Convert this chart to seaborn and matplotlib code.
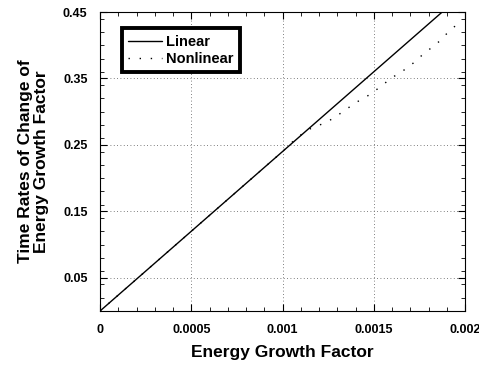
import numpy as np
import pandas as pd
import matplotlib
matplotlib.use("Agg")
import matplotlib.pyplot as plt
import seaborn as sns
from matplotlib.ticker import MultipleLocator

# Energy growth factor (x) and time rates of change (y)
linear_x = [0.0, 0.0005, 0.001, 0.0015, 0.002]
linear_y = [0.0, 0.120, 0.240, 0.360, 0.480]

nonlinear_x = [0.0, 0.0005, 0.001, 0.00106, 0.0011, 0.00115, 0.00124, 0.00129,
               0.00133, 0.00137, 0.00141, 0.00146, 0.00155, 0.00159, 0.00164,
               0.00169, 0.00173, 0.00177, 0.00182, 0.00186, 0.0019, 0.00194, 0.00198]
nonlinear_y = [0.0, 0.120, 0.240, 0.256, 0.265, 0.274, 0.284, 0.292,
               0.300, 0.3076, 0.315, 0.3225, 0.340, 0.350, 0.3575,
               0.3675, 0.376, 0.3865, 0.397, 0.406, 0.4175, 0.4275, 0.436]

x_ticks = [0, 0.0005, 0.001, 0.0015, 0.002]
x_tick_labels = ["0", "0.0005", "0.001", "0.0015", "0.002"]
y_ticks = [0.05, 0.15, 0.25, 0.35, 0.45]
y_tick_labels = ["0.05", "0.15", "0.25", "0.35", "0.45"]

sns.set_style("ticks")
plt.rcParams["font.family"] = ["Liberation Sans", "DejaVu Sans"]
plt.rcParams["text.color"] = "black"
plt.rcParams["axes.labelcolor"] = "black"

fig = plt.figure(figsize=(4.79, 3.65), dpi=100)
ax = fig.add_axes([0.2088, 0.1479, 0.7620, 0.8192])

lin = pd.DataFrame({"x": linear_x, "y": linear_y})
non = pd.DataFrame({"x": nonlinear_x, "y": nonlinear_y})
sns.lineplot(data=lin, x="x", y="y", ax=ax, color="black", linewidth=1.0,
             label="Linear", sort=True)
sns.lineplot(data=non, x="x", y="y", ax=ax, color="black", linewidth=1.0,
             linestyle=(0, (1, 7)), label="Nonlinear", sort=True)

ax.set_xlim(0, 0.002)
ax.set_ylim(0, 0.45)
ax.set_xticks(x_ticks)
ax.set_xticklabels(x_tick_labels)
ax.set_yticks(y_ticks)
ax.set_yticklabels(y_tick_labels)
ax.xaxis.set_minor_locator(MultipleLocator(0.0001))
ax.yaxis.set_minor_locator(MultipleLocator(0.02))
ax.tick_params(which="both", direction="in", top=True, right=True,
               colors="black", labelcolor="black")
ax.tick_params(which="major", length=5, width=0.8, labelsize=9, pad=9)
ax.tick_params(which="minor", length=3, width=0.6)
for lbl in ax.get_xticklabels() + ax.get_yticklabels():
    lbl.set_fontweight("bold")

ax.grid(True, which="major", color="#555555", linestyle=(0, (1, 3)), linewidth=0.6)
for s in ax.spines.values():
    s.set_color("black")
    s.set_linewidth(0.8)

ax.set_xlabel("Energy Growth Factor", fontsize=12.5, fontweight="bold",
              labelpad=7, color="black")
ax.set_ylabel("Time Rates of Change of\nEnergy Growth Factor", fontsize=12.5,
              fontweight="bold", labelpad=10, linespacing=1.1, color="black")

leg = ax.legend(loc="upper left", bbox_to_anchor=(0.06, 0.946), frameon=True,
                fancybox=False, edgecolor="black", fontsize=10.5, handlelength=2.3,
                borderpad=0.45, labelspacing=0.2, handletextpad=0.3,
                borderaxespad=0.0)
leg.get_frame().set_linewidth(2.8)
leg.get_frame().set_alpha(1.0)
for t in leg.get_texts():
    t.set_fontweight("bold")
    t.set_color("black")

fig.savefig("out.png", dpi=100)
